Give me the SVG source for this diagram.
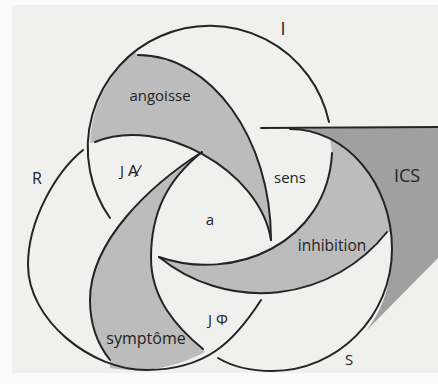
<svg xmlns="http://www.w3.org/2000/svg" width="438" height="384" viewBox="0 0 438 384">
<style>
.ln{fill:none;stroke:#242424;stroke-width:2;stroke-linecap:round;stroke-linejoin:round}
.sh{fill:#bcbcbc}
.dk{fill:#a0a0a0}
text{font-family:"Open Sans","Lato","Liberation Sans",sans-serif;fill:#222222;text-anchor:middle}
</style>
<rect width="438" height="384" fill="#fbfbfb"/>
<rect x="12" y="5" width="426" height="368" fill="#f0f0ee"/>
<g id="ICS">
<path class="dk" d="M290,129 L438,127 L438,258 L366,331 C383,310 392,282 392,249 C392,183 346,129 290,129 Z"/>
<path class="ln" d="M261,128 L438,127"/>
<text x="407" y="182" font-size="18">ICS</text>
</g>
<g id="angoisse">
<path class="sh" d="M138,55 C211,55 271,138 271,240 C260,170 160,115 95,142 L90,143 A122,122 0 0 1 135,52 Z"/>
<text x="160" y="101" font-size="15">angoisse</text>
</g>
<g id="inhibition">
<path class="sh" d="M159,257 A161,161 0 0 0 387,232 L391,232 C389,190 360,150 330,138 L332,153 C327.5,243 234,283 159,257 Z"/>
<text x="332" y="251" font-size="15.5">inhibition</text>
</g>
<g id="symptome">
<path class="sh" d="M202,152 C152,184 90,240 90,300 C90,325 98,345 110,360 L110,368 Q160,376 205,352 L203,349 C176,327 151,298 151,258 C151,213 167,180 202,152 Z"/>
<text x="146" y="344" font-size="16">symptôme</text>
</g>
<g id="connectors">
<g id="ring-I">
<path class="ln" d="M110,218 A122,122 0 1 1 329,122"/>
<path class="ln" d="M332,153 C327.5,243 234,283 159,257"/>
<path class="ln" d="M159,257 A161,161 0 0 0 387,232"/>
</g>
<g id="ring-R">
<path class="ln" d="M261,300 C234,342 206,370 146,370 C91,370 28,320 28,265 C28,220 56,172 83,150"/>
<path class="ln" d="M95,142 C160,115 260,170 271,240"/>
<path class="ln" d="M271,240 C271,138 211,55 138,55"/>
</g>
<g id="ring-S">
<path class="ln" d="M290,129 C346,129 392,183 392,249 C392,316 338,371 272,371 C252,371 233,367 218,358"/>
<path class="ln" d="M202,152 C167,180 151,213 151,258 C151,298 176,327 203,349"/>
<path class="ln" d="M202,152 C152,184 90,240 90,300 C90,325 98,345 110,360"/>
</g>
</g>
<g id="labels">
<text x="283" y="35" font-size="18">I</text>
<text x="37" y="184" font-size="16">R</text>
<text x="129" y="176" font-size="15" font-family="Noto Sans, DejaVu Sans, sans-serif">J A̸</text>
<text x="290" y="183" font-size="15">sens</text>
<text x="210" y="225" font-size="15">a</text>
<text x="218" y="325" font-size="15">J Φ</text>
<text x="349" y="365" font-size="15">S</text>
</g>
</svg>
